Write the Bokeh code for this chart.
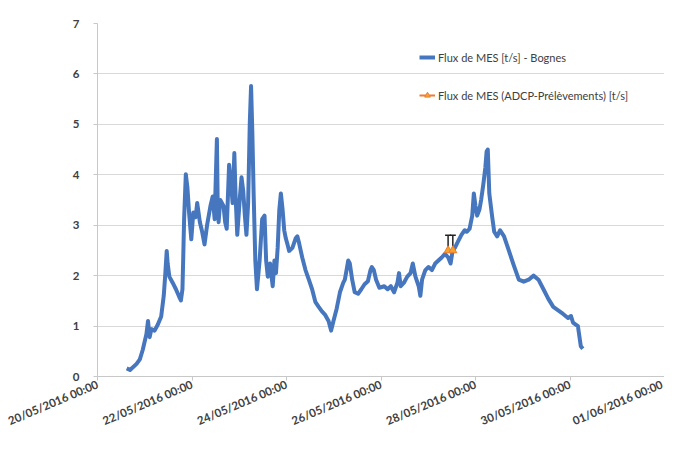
import pandas as pd
from bokeh.plotting import figure
from bokeh.models import (ColumnDataSource, Range1d, FixedTicker, DatetimeTickFormatter,
                          Legend, LegendItem, Whisker, TeeHead)
from bokeh.embed import file_html
from bokeh.resources import INLINE

# ---- data (days after 20/05/2016 00:00, flux in t/s) ----
flux_days = [0.618, 0.688, 0.827, 0.896, 0.958, 1.035, 1.069, 1.104, 1.140, 1.208,
             1.277, 1.348, 1.402, 1.431, 1.465, 1.485, 1.521, 1.590, 1.660, 1.729,
             1.765, 1.798, 1.813, 1.833, 1.869, 1.902, 1.938, 1.985, 2.027, 2.077,
             2.110, 2.167, 2.215, 2.265, 2.319, 2.390, 2.438, 2.479, 2.527, 2.542,
             2.563, 2.598, 2.667, 2.702, 2.735, 2.785, 2.819, 2.860, 2.896, 2.923,
             2.958, 3.015, 3.048, 3.083, 3.119, 3.152, 3.188, 3.223, 3.250, 3.277,
             3.306, 3.340, 3.375, 3.431, 3.485, 3.535, 3.569, 3.604, 3.652, 3.708,
             3.744, 3.777, 3.813, 3.848, 3.881, 3.917, 3.952, 3.985, 4.021, 4.056,
             4.125, 4.194, 4.229, 4.265, 4.333, 4.402, 4.473, 4.542, 4.610, 4.681,
             4.750, 4.819, 4.890, 4.944, 4.994, 5.063, 5.131, 5.202, 5.235, 5.271,
             5.306, 5.340, 5.390, 5.444, 5.515, 5.583, 5.652, 5.723, 5.777, 5.806,
             5.848, 5.896, 5.965, 6.069, 6.140, 6.208, 6.277, 6.348, 6.381, 6.417,
             6.485, 6.556, 6.625, 6.673, 6.729, 6.798, 6.833, 6.869, 6.938, 7.006,
             7.077, 7.146, 7.215, 7.285, 7.354, 7.423, 7.473, 7.515, 7.563, 7.631,
             7.702, 7.771, 7.819, 7.875, 7.931, 7.965, 8.000, 8.035, 8.083, 8.119,
             8.167, 8.208, 8.235, 8.260, 8.292, 8.354, 8.396, 8.458, 8.521, 8.604,
             8.708, 8.812, 8.917, 9.021, 9.125, 9.229, 9.333, 9.438, 9.542, 9.646,
             9.750, 9.854, 9.958, 10.021, 10.063, 10.167, 10.229, 10.271]
flux_values = [0.16, 0.13, 0.25, 0.34, 0.53, 0.84, 1.10, 0.78, 0.94, 0.91,
               1.03, 1.19, 1.60, 1.98, 2.49, 2.24, 1.98, 1.86, 1.73, 1.58,
               1.51, 1.73, 2.30, 3.12, 4.01, 3.76, 3.25, 2.72, 3.25, 3.16,
               3.44, 3.06, 2.87, 2.62, 3.00, 3.38, 3.57, 3.12, 4.71, 3.57,
               3.06, 3.50, 3.38, 3.06, 2.93, 4.20, 3.89, 3.44, 4.43, 3.57,
               2.81, 3.57, 3.95, 3.69, 3.19, 2.81, 3.44, 5.03, 5.76, 4.84,
               3.57, 2.30, 1.73, 2.30, 3.12, 3.19, 2.30, 1.98, 2.24, 1.79,
               2.30, 2.05, 2.55, 3.31, 3.63, 3.31, 2.90, 2.74, 2.62, 2.49,
               2.55, 2.74, 2.78, 2.65, 2.36, 2.11, 1.92, 1.73, 1.48, 1.38,
               1.29, 1.22, 1.10, 0.91, 1.10, 1.35, 1.67, 1.86, 1.92, 2.11,
               2.30, 2.24, 1.92, 1.67, 1.64, 1.73, 1.83, 1.89, 2.11, 2.17,
               2.11, 1.92, 1.76, 1.79, 1.73, 1.79, 1.67, 1.86, 2.05, 1.79,
               1.86, 1.98, 2.05, 2.24, 1.98, 1.79, 1.60, 1.92, 2.11, 2.17,
               2.11, 2.24, 2.30, 2.36, 2.43, 2.36, 2.24, 2.49, 2.55, 2.68,
               2.81, 2.90, 2.87, 2.93, 3.19, 3.63, 3.38, 3.19, 3.31, 3.50,
               3.82, 4.14, 4.46, 4.50, 3.63, 3.16, 2.87, 2.78, 2.90, 2.78,
               2.49, 2.20, 1.92, 1.88, 1.92, 2.00, 1.92, 1.73, 1.54, 1.38,
               1.31, 1.24, 1.16, 1.20, 1.07, 1.00, 0.60, 0.55]

adcp_days = [7.42, 7.52]
adcp_values = [2.50, 2.50]
adcp_upper = [2.80, 2.80]

tick_days = [0, 2, 4, 6, 8, 10, 12]
y_ticks = [0, 1, 2, 3, 4, 5, 6, 7]
series_names = ["Flux de MES [t/s] - Bognes", "Flux de MES (ADCP-Prélèvements) [t/s]"]

base = pd.Timestamp("2016-05-20 00:00")
def to_dt(days):
    return [base + pd.Timedelta(days=d) for d in days]

flux_src = ColumnDataSource(dict(x=to_dt(flux_days), y=flux_values))
adcp_src = ColumnDataSource(dict(x=to_dt(adcp_days), y=adcp_values, up=adcp_upper))

FONT = "Lato"
TXT = "#404040"

p = figure(width=664, height=436, x_axis_type="datetime", output_backend="svg",
           toolbar_location=None,
           x_range=Range1d(base, base + pd.Timedelta(days=12)),
           y_range=Range1d(0, 7),
           min_border_left=97, min_border_top=23, min_border_right=0, min_border_bottom=45)
p.outline_line_color = None
p.background_fill_color = "white"
p.border_fill_color = "white"

blue = "#4677BE"
r1 = p.line("x", "y", source=flux_src, color=blue, line_width=4, line_join="round")

p.add_layout(Whisker(source=adcp_src, base="x", lower="y", upper="up", dimension="height",
                     line_color="#222222", line_width=1.5,
                     upper_head=TeeHead(size=6, line_color="#222222", line_width=1.5),
                     lower_head=None))
r2 = p.line("x", "y", source=adcp_src, color="#ED7D31", line_width=2)
r2b = p.scatter("x", "y", source=adcp_src, marker="triangle", size=8,
                fill_color="#F4A52A", line_color="#ED7D31")

# axes
ms_ticks = [(base + pd.Timedelta(days=d)).timestamp() * 1000 for d in tick_days]
p.xaxis.ticker = FixedTicker(ticks=ms_ticks)
fmt = "%d/%m/%Y %H:%M"
p.xaxis.formatter = DatetimeTickFormatter(days=fmt, months=fmt, hours=fmt, years=fmt,
                                          minutes=fmt, hourmin=fmt, seconds=fmt,
                                          milliseconds=fmt, minsec=fmt)
p.xaxis.major_label_orientation = 0.4
p.yaxis.ticker = FixedTicker(ticks=y_ticks)

for ax in (p.xaxis, p.yaxis):
    ax.axis_line_color = "#c8c8c8"
    ax.major_tick_line_color = "#c8c8c8"
    ax.minor_tick_line_color = None
    ax.major_tick_in = 0
    ax.major_tick_out = 4
    ax.major_label_text_font = FONT
    ax.major_label_text_font_size = "11.5px"
    ax.major_label_text_font_style = "bold"
    ax.major_label_text_color = TXT
p.yaxis.major_label_standoff = 14
p.xaxis.major_label_standoff = 3

p.xgrid.grid_line_color = None
p.ygrid.grid_line_color = "#d9d9d9"
p.ygrid.grid_line_width = 1

legend = Legend(items=[LegendItem(label=series_names[0], renderers=[r1]),
                       LegendItem(label=series_names[1], renderers=[r2, r2b])],
                location=(322, 274), border_line_color=None, background_fill_alpha=0,
                glyph_width=16, glyph_height=14, spacing=24,
                label_text_font=FONT, label_text_font_size="11px",
                label_text_color=TXT, label_standoff=3, padding=8)
p.add_layout(legend)

open("out.html", "w").write(file_html(p, INLINE))
